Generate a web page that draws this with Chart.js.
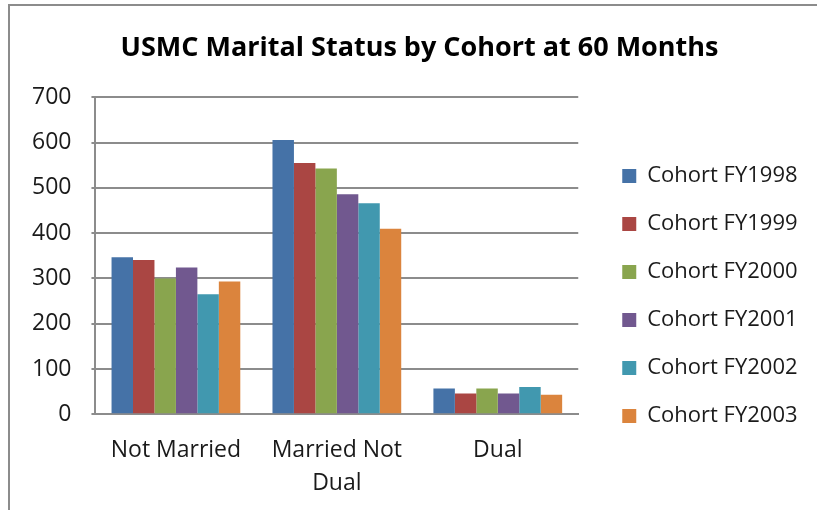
<!DOCTYPE html>
<html>
<head>
<meta charset="utf-8">
<script src="https://cdn.jsdelivr.net/npm/chart.js@4"></script>
<style>
  html, body { margin: 0; padding: 0; background: #fff; overflow: hidden; }
  #wrap {
    position: absolute; left: 8px; top: 4px;
    width: 809px; height: 506px; overflow: hidden;
    border-left: 2px solid #8c8c8c; border-top: 2px solid #8c8c8c;
  }
  #chart { position: absolute; left: -10px; top: -6px; }
</style>
</head>
<body>
<div id="wrap"><canvas id="chart" width="817" height="510"></canvas></div>
<script>
const categories = ['Not Married', ['Married Not', 'Dual'], 'Dual'];
const cohorts = ['Cohort FY1998', 'Cohort FY1999', 'Cohort FY2000', 'Cohort FY2001', 'Cohort FY2002', 'Cohort FY2003'];
const fy1998 = [347, 606, 57];
const fy1999 = [341, 555, 46];
const fy2000 = [300, 543, 57];
const fy2001 = [324, 486, 46];
const fy2002 = [265, 466, 60];
const fy2003 = [293, 410, 43];
const colors = ['#4572A7', '#AA4643', '#89A54E', '#71588F', '#4198AF', '#DB843D'];

const series = [fy1998, fy1999, fy2000, fy2001, fy2002, fy2003];
const font = "'Open Sans', 'Liberation Sans', sans-serif";

// nudge legend and title to where Excel had them, and give the legend its full width
const boxShift = {
    id: 'boxShift',
    afterLayout(chart) {
        const lg = chart.legend;
        if (lg) {
            lg.top += 34; lg.bottom += 34;
            lg.left += 18;
            lg.right = chart.width;
            lg.width = lg.right - lg.left;
            lg.maxWidth = lg.width;
        }
        const t = chart.titleBlock;
        if (t) {
            t.left += 30; t.right += 30;
        }
    }
};

function drawChart() {
    new Chart(document.getElementById('chart'), {
        type: 'bar',
        data: {
            labels: categories,
            datasets: series.map((vals, i) => ({
                label: cohorts[i],
                data: vals,
                backgroundColor: colors[i],
                borderWidth: 0,
                categoryPercentage: 0.8,
                barPercentage: 1.0
            }))
        },
        plugins: [boxShift],
        options: {
            responsive: false,
            animation: false,
            layout: { padding: { left: 12, right: 50, top: 12, bottom: -2 } },
            plugins: {
                title: {
                    display: true,
                    text: 'USMC Marital Status by Cohort at 60 Months',
                    color: '#000',
                    font: { family: font, size: 27, weight: 'bold' },
                    padding: { top: 20, bottom: 33 }
                },
                legend: {
                    position: 'right',
                    labels: {
                        color: '#1a1a1a',
                        font: { family: font, size: 22 },
                        boxWidth: 14,
                        boxHeight: 14,
                        padding: 26
                    }
                },
                tooltip: { enabled: false }
            },
            scales: {
                x: {
                    grid: { display: false },
                    border: { color: '#8c8c8c', width: 2 },
                    ticks: { color: '#1a1a1a', font: { family: font, size: 23, lineHeight: 1.43 }, maxRotation: 0, padding: 12 }
                },
                y: {
                    min: 0,
                    max: 700,
                    ticks: { stepSize: 100, color: '#1a1a1a', font: { family: font, size: 23 }, padding: 20 },
                    grid: { color: '#8c8c8c', lineWidth: 2, drawTicks: true, tickLength: 4 },
                    border: { color: '#8c8c8c', width: 2 }
                }
            }
        }
    });
}

Promise.all([
    document.fonts.load("22px 'Open Sans'"),
    document.fonts.load("bold 27px 'Open Sans'")
]).then(drawChart, drawChart);
</script>
</body>
</html>
